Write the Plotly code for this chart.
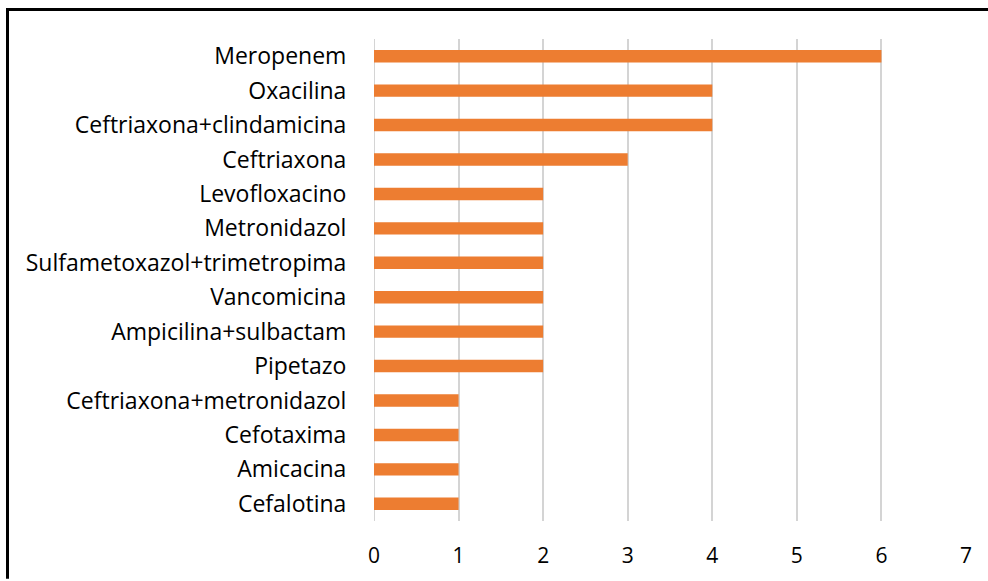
import plotly.graph_objects as go

# Antibiotic usage counts
antibioticos = [
    "Meropenem", "Oxacilina", "Ceftriaxona+clindamicina", "Ceftriaxona",
    "Levofloxacino", "Metronidazol", "Sulfametoxazol+trimetropima",
    "Vancomicina", "Ampicilina+sulbactam", "Pipetazo",
    "Ceftriaxona+metronidazol", "Cefotaxima", "Amicacina", "Cefalotina",
]
valores = [6, 4, 4, 3, 2, 2, 2, 2, 2, 2, 1, 1, 1, 1]
x_ticks = [0, 1, 2, 3, 4, 5, 6, 7]

fig = go.Figure(
    go.Bar(
        x=valores,
        y=antibioticos,
        orientation="h",
        marker=dict(color="#ED7D31", line=dict(width=0)),
        width=0.36,
    )
)

fig.update_layout(
    width=988,
    height=581,
    margin=dict(l=374, r=22, t=39, b=58),
    paper_bgcolor="white",
    plot_bgcolor="white",
    showlegend=False,
    font=dict(family="'Open Sans', sans-serif", color="#000000", size=20),
    xaxis=dict(
        range=[0, 7],
        tickvals=x_ticks,
        showgrid=True,
        gridcolor="#D4D4D4",
        gridwidth=2,
        zeroline=False,
        showline=False,
        ticks="outside",
        ticklen=16,
        tickcolor="rgba(0,0,0,0)",
        tickfont=dict(size=21),
    ),
    yaxis=dict(
        categoryorder="array",
        categoryarray=antibioticos[::-1],
        range=[-0.5, len(antibioticos) - 0.5],
        showgrid=False,
        zeroline=False,
        showline=False,
        ticks="outside",
        ticklen=22,
        tickcolor="rgba(0,0,0,0)",
        tickfont=dict(size=23),
    ),
    shapes=[
        # gridline at the value axis origin
        dict(type="line", xref="x", yref="paper", layer="below",
             x0=0, x1=0, y0=0, y1=1,
             line=dict(color="#D4D4D4", width=2)),
        # frame lines at left and top of the picture
        dict(type="line", xref="paper", yref="paper",
             x0=-374 / 592 + 7.5 / 592, x1=-374 / 592 + 7.5 / 592,
             y0=1 + 29.5 / 484, y1=-58 / 484,
             line=dict(color="black", width=3)),
        dict(type="line", xref="paper", yref="paper",
             x0=-374 / 592 + 6 / 592, x1=1 + 22 / 592,
             y0=1 + 29.5 / 484, y1=1 + 29.5 / 484,
             line=dict(color="black", width=3)),
    ],
)

fig.write_html("out.html")
